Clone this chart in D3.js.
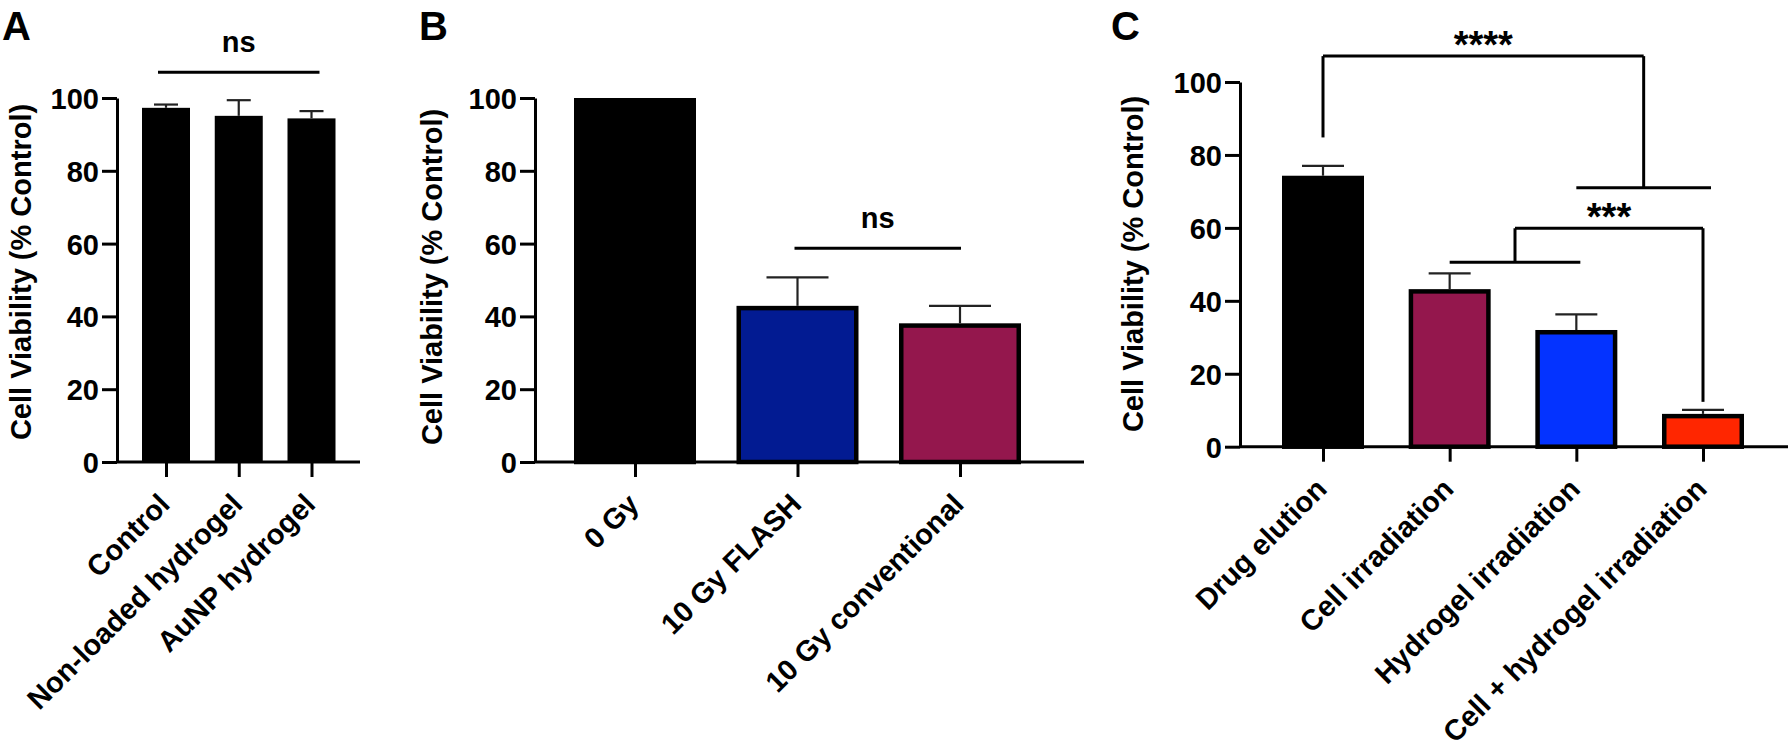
<!DOCTYPE html>
<html>
<head>
<meta charset="utf-8">
<title>Cell viability panels</title>
<script src="https://cdn.jsdelivr.net/npm/d3@7"></script>
<style>
  body { margin: 0; background: #fff; }
  svg text { font-family: "Liberation Sans", Arial, sans-serif; font-weight: bold; fill: #000; }
</style>
</head>
<body>
<svg id="chart"></svg>
<script>
const W = 1790, H = 753;

// data
const yTicks = [0, 20, 40, 60, 80, 100];

const catsA = ["Control", "Non-loaded hydrogel", "AuNP hydrogel"];
const meansA = [97.3, 95.1, 94.4];
const errsA = [0.9, 4.3, 2.0];
const colorsA = ["#000000", "#000000", "#000000"];

const catsB = ["0 Gy", "10 Gy FLASH", "10 Gy conventional"];
const meansB = [100, 42.9, 38.1];
const errsB = [0, 7.8, 4.8];
const colorsB = ["#000000", "#021B92", "#94174D"];

const catsC = ["Drug elution", "Cell irradiation", "Hydrogel irradiation", "Cell + hydrogel irradiation"];
const meansC = [74.3, 43.2, 32.0, 9.0];
const errsC = [2.7, 4.3, 4.3, 1.1];
const colorsC = ["#000000", "#94174D", "#0433FF", "#FF2600"];

var svg = d3.select("#chart")
    .attr("width", W)
    .attr("height", H);

function drawPanel(p) {
    var g = svg.append("g");
    var y = d3.scaleLinear().domain([0, 100]).range([p.bottom, p.top]);
    var x = d3.scalePoint().domain(p.cats).range([p.left + p.padL, p.right - p.padR]);
    var s = p.barStroke;

    // bars, border drawn inside the bar
    g.selectAll("rect.bar")
        .data(p.cats)
        .enter()
        .append("rect")
        .attr("class", "bar")
        .attr("x", d => x(d) - p.barW / 2 + s / 2)
        .attr("y", (d, i) => y(p.means[i]) + s / 2)
        .attr("width", p.barW - s)
        .attr("height", (d, i) => y(0) - y(p.means[i]) - s / 2)
        .attr("fill", (d, i) => p.colors[i])
        .attr("stroke", "#000")
        .attr("stroke-width", s);

    // error bars (upper only)
    p.cats.forEach(function(c, i) {
        if (!p.errs[i]) return;
        var cx = x(c), y0 = y(p.means[i]), y1 = y(p.means[i] + p.errs[i]);
        g.append("line").attr("x1", cx).attr("x2", cx).attr("y1", y0).attr("y2", y1)
            .attr("stroke", "#222").attr("stroke-width", 2.2);
        g.append("line").attr("x1", cx - p.capW / 2).attr("x2", cx + p.capW / 2).attr("y1", y1).attr("y2", y1)
            .attr("stroke", "#222").attr("stroke-width", 2.2);
    });

    // y axis
    var ya = g.append("g")
        .attr("transform", "translate(" + p.left + ",0)")
        .call(d3.axisLeft(y).tickValues(yTicks).tickSize(15).tickSizeOuter(0).tickPadding(3));
    ya.select(".domain").attr("stroke-width", 3);
    ya.selectAll(".tick line").attr("stroke-width", 3);
    ya.selectAll(".tick text").style("font-size", "29px").attr("dy", "0.36em");

    // x axis
    g.append("line")
        .attr("x1", p.left).attr("x2", p.right)
        .attr("y1", y(0)).attr("y2", y(0))
        .attr("stroke", "#000").attr("stroke-width", 3);
    var xa = g.append("g")
        .attr("transform", "translate(0," + y(0) + ")")
        .call(d3.axisBottom(x).tickSize(15).tickSizeOuter(0));
    xa.select(".domain").remove();
    xa.selectAll(".tick line").attr("stroke-width", 3);
    xa.selectAll(".tick text")
        .style("font-size", "29px")
        .attr("x", 0).attr("y", 0).attr("dy", 0)
        .attr("text-anchor", "end")
        .attr("transform", "translate(5,44) rotate(-45)");

    // y title
    g.append("text")
        .attr("transform", "translate(" + p.titleX + "," + p.titleY + ") rotate(-90)")
        .attr("text-anchor", "middle")
        .style("font-size", "29px")
        .text("Cell Viability (% Control)");

    // panel letter
    g.append("text")
        .attr("x", p.letterX).attr("y", 40)
        .style("font-size", "40px")
        .text(p.letter);

    return { g: g, x: x, y: y };
}

function seg(g, x1, y1, x2, y2) {
    g.append("line").attr("x1", x1).attr("y1", y1).attr("x2", x2).attr("y2", y2)
        .attr("stroke", "#000").attr("stroke-width", 3);
}

function label(g, xp, yp, txt, size) {
    g.append("text").attr("x", xp).attr("y", yp)
        .attr("text-anchor", "middle")
        .style("font-size", size + "px")
        .text(txt);
}

// Panel A
var A = drawPanel({
    cats: catsA, means: meansA, errs: errsA, colors: colorsA,
    left: 117, right: 360, top: 98, bottom: 462, padL: 49, padR: 48.5,
    barW: 48, barStroke: 0, capW: 24,
    titleX: 31, titleY: 272, letter: "A", letterX: 2
});
(function() {
    var x = A.x, y = A.y;
    var x1 = x(catsA[0]) - 8, x2 = x(catsA[2]) + 8, ly = y(107.1);
    seg(A.g, x1, ly, x2, ly);
    label(A.g, (x1 + x2) / 2, ly - 20, "ns", 29);
})();

// Panel B
var B = drawPanel({
    cats: catsB, means: meansB, errs: errsB, colors: colorsB,
    left: 535, right: 1084, top: 98, bottom: 462, padL: 100, padR: 124,
    barW: 122, barStroke: 4.5, capW: 62,
    titleX: 442, titleY: 277, letter: "B", letterX: 419
});
(function() {
    var x = B.x, y = B.y;
    var x1 = x(catsB[1]) - 3, x2 = x(catsB[2]) + 1, ly = y(58.7);
    seg(B.g, x1, ly, x2, ly);
    label(B.g, (x1 + x2) / 2, ly - 20, "ns", 29);
})();

// Panel C
var C = drawPanel({
    cats: catsC, means: meansC, errs: errsC, colors: colorsC,
    left: 1240, right: 1788, top: 82, bottom: 446.7, padL: 83, padR: 85,
    barW: 82, barStroke: 4.5, capW: 42,
    titleX: 1143, titleY: 264, letter: "C", letterX: 1111
});
(function() {
    var x = C.x, y = C.y, g = C.g;
    // **** : drug elution vs (hydrogel, cell + hydrogel)
    var gx1 = x(catsC[2]), gx2 = x(catsC[3]) + 8, gy = y(71.0);
    seg(g, gx1, gy, gx2, gy);
    var lx = x(catsC[0]), rx = (gx1 + gx2) / 2, top4 = y(107.1);
    seg(g, lx, y(84.8), lx, top4);
    seg(g, lx, top4, rx, top4);
    seg(g, rx, top4, rx, gy);
    label(g, (lx + rx) / 2, top4 + 2, "****", 38);
    // *** : (cell, hydrogel) vs cell + hydrogel
    var hx1 = x(catsC[1]), hx2 = x(catsC[2]) + 4, hy = y(50.6);
    seg(g, hx1, hy, hx2, hy);
    var mx = (hx1 + hx2) / 2, ex = x(catsC[3]), top3 = y(59.9);
    seg(g, mx, hy, mx, top3);
    seg(g, mx, top3, ex, top3);
    seg(g, ex, top3, ex, y(12.3));
    label(g, (mx + ex) / 2, top3 + 2, "***", 38);
})();
</script>
</body>
</html>
